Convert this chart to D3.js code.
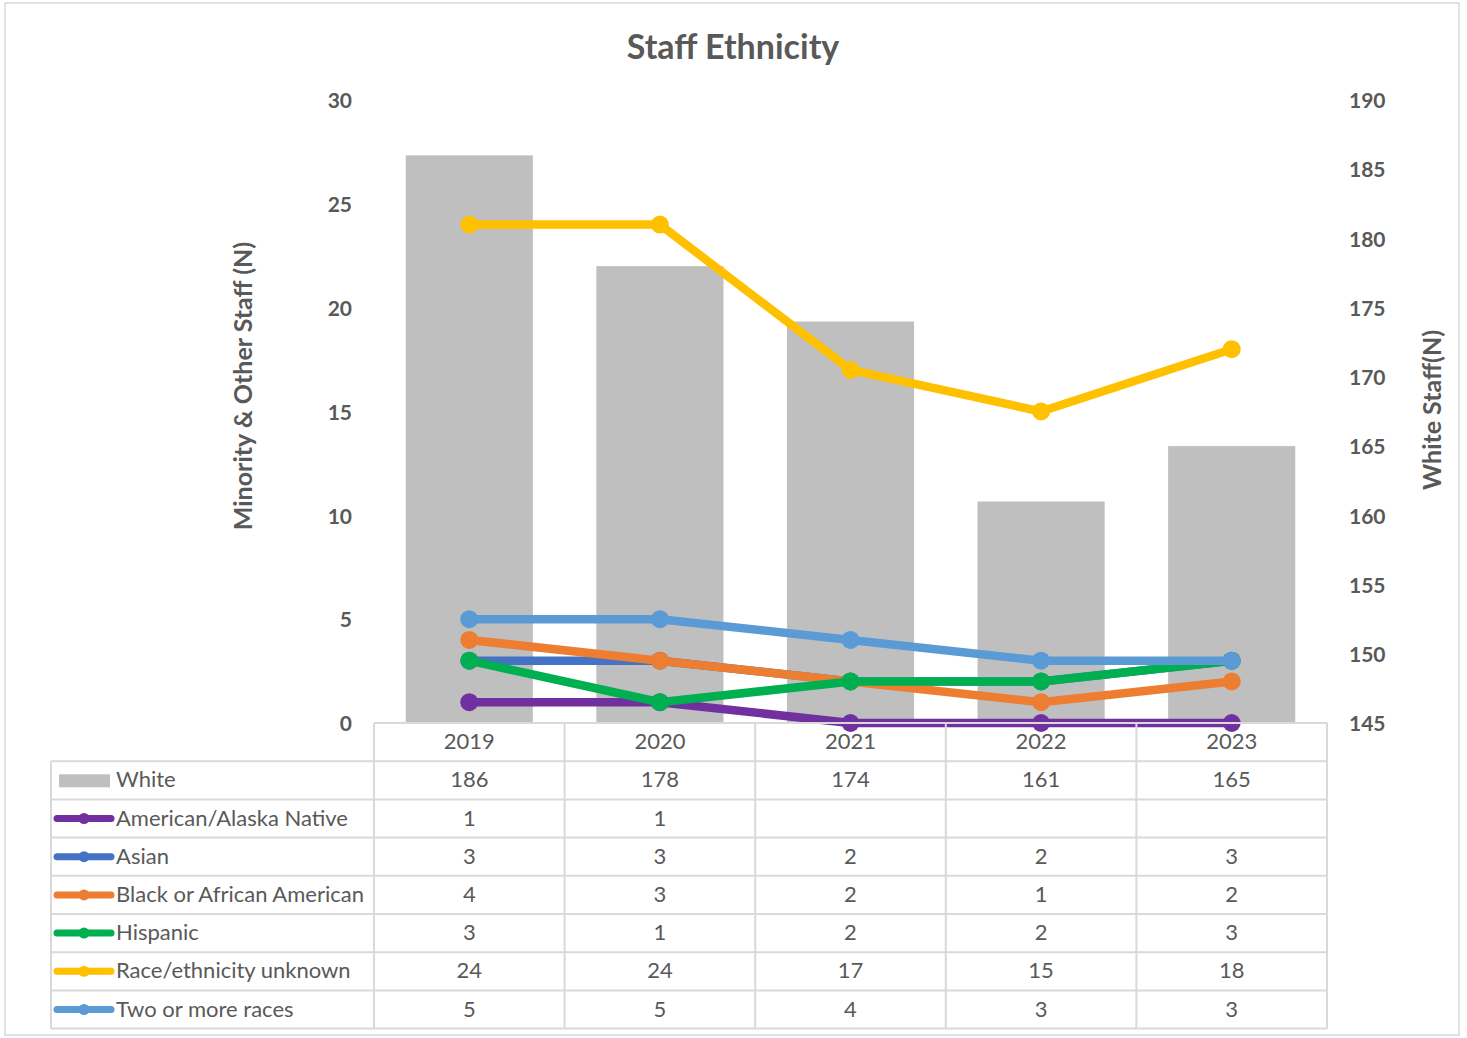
<!DOCTYPE html>
<html>
<head>
<meta charset="utf-8">
<script src="https://cdn.jsdelivr.net/npm/d3@7"></script>
<style>
  body { margin: 0; background: #fff; }
  svg { font-family: Lato, "Open Sans", sans-serif; }
</style>
</head>
<body>
<svg width="1467" height="1038"></svg>
<script>
// data
var years = ["2019", "2020", "2021", "2022", "2023"];
var white = [186, 178, 174, 161, 165];
var seriesNames = ["American/Alaska Native", "Asian", "Black or African American", "Hispanic", "Race/ethnicity unknown", "Two or more races"];
var americanNative = [1, 1, null, null, null];
var asian = [3, 3, 2, 2, 3];
var black = [4, 3, 2, 1, 2];
var hispanic = [3, 1, 2, 2, 3];
var unknown = [24, 24, 17, 15, 18];
var twoOrMore = [5, 5, 4, 3, 3];
var leftTicks = [0, 5, 10, 15, 20, 25, 30];
var rightTicks = [145, 150, 155, 160, 165, 170, 175, 180, 185, 190];

var seriesValues = [americanNative, asian, black, hispanic, unknown, twoOrMore];
var colors = ["#7030A0", "#4472C4", "#ED7D31", "#00B050", "#FFC000", "#5B9BD5"];
var textColor = "#595959";
var gridColor = "#d9d9d9";

var svg = d3.select("svg");

// outer chart border
svg.append("rect")
  .attr("x", 5).attr("y", 3)
  .attr("width", 1454).attr("height", 1032)
  .attr("fill", "none").attr("stroke", gridColor).attr("stroke-width", 1.5);

var plotLeft = 374, plotRight = 1327, plotTop = 100, plotBottom = 723;

var x = d3.scaleBand().domain(years).range([plotLeft, plotRight])
  .paddingInner(0.333).paddingOuter(0.1665);
var yLeft = d3.scaleLinear().domain([0, 30]).range([plotBottom, plotTop]);
var yRight = d3.scaleLinear().domain([145, 190]).range([plotBottom, plotTop]);
var cx = function(d) { return x(d) + x.bandwidth() / 2; };

// title
svg.append("text")
  .attr("x", 733).attr("y", 59)
  .attr("text-anchor", "middle")
  .style("font-size", "34px").style("font-weight", "bold")
  .attr("fill", textColor)
  .text("Staff Ethnicity");

// bars (right axis)
svg.selectAll(".bar")
  .data(years).enter()
  .append("rect")
  .attr("class", "bar")
  .attr("x", function(d) { return x(d); })
  .attr("y", function(d, i) { return yRight(white[i]); })
  .attr("width", x.bandwidth())
  .attr("height", function(d, i) { return plotBottom - yRight(white[i]); })
  .attr("fill", "#BFBFBF");

// axes
var leftAxis = svg.append("g")
  .attr("transform", "translate(" + (plotLeft - 22) + ",1)")
  .call(d3.axisLeft(yLeft).tickValues(leftTicks).tickSize(0).tickPadding(0));
var rightAxis = svg.append("g")
  .attr("transform", "translate(1349,1)")
  .call(d3.axisRight(yRight).tickValues(rightTicks).tickSize(0).tickPadding(0));
[leftAxis, rightAxis].forEach(function(a) {
  a.select(".domain").remove();
  a.selectAll("text")
    .attr("fill", textColor)
    .style("font-size", "21px").style("font-weight", "bold")
    .style("font-family", "Lato, sans-serif");
});

// axis titles
svg.append("text")
  .attr("transform", "translate(252,386) rotate(-90)")
  .attr("text-anchor", "middle")
  .style("font-size", "25px").style("font-weight", "bold")
  .attr("fill", textColor)
  .text("Minority & Other Staff (N)");
svg.append("text")
  .attr("transform", "translate(1441,410) rotate(-90)")
  .attr("text-anchor", "middle")
  .style("font-size", "25px").style("font-weight", "bold")
  .attr("fill", textColor)
  .text("White Staff(N)");

// lines (left axis), empty cells plotted as zero
var line = d3.line()
  .x(function(d) { return cx(d.year); })
  .y(function(d) { return yLeft(d.value == null ? 0 : d.value); });

seriesValues.forEach(function(vals, s) {
  var pts = years.map(function(y, i) { return { year: y, value: vals[i] }; });
  var g = svg.append("g");
  g.append("path")
    .datum(pts)
    .attr("d", line)
    .attr("fill", "none")
    .attr("stroke", colors[s])
    .attr("stroke-width", 8.5)
    .attr("stroke-linejoin", "round");
  g.selectAll("circle")
    .data(pts).enter()
    .append("circle")
    .attr("cx", function(d) { return cx(d.year); })
    .attr("cy", function(d) { return yLeft(d.value == null ? 0 : d.value); })
    .attr("r", 9)
    .attr("fill", colors[s]);
});

// data table
var rowH = 38.2;
var tableLeft = 51;
var headTop = plotBottom;
var bodyTop = headTop + rowH;
var nRows = seriesNames.length + 1;
var tableBottom = bodyTop + nRows * rowH;
var colEdge = function(i) { return plotLeft + i * x.step(); };

var grid = svg.append("g").attr("stroke", gridColor).attr("stroke-width", 2);
grid.append("line").attr("x1", plotLeft).attr("x2", plotRight).attr("y1", headTop).attr("y2", headTop);
for (var r = 0; r <= nRows; r++) {
  grid.append("line")
    .attr("x1", tableLeft).attr("x2", plotRight)
    .attr("y1", bodyTop + r * rowH).attr("y2", bodyTop + r * rowH);
}
grid.append("line").attr("x1", tableLeft).attr("x2", tableLeft).attr("y1", bodyTop).attr("y2", tableBottom);
for (var c = 0; c <= years.length; c++) {
  grid.append("line")
    .attr("x1", colEdge(c)).attr("x2", colEdge(c))
    .attr("y1", headTop).attr("y2", tableBottom);
}

var tableText = svg.append("g")
  .style("font-size", "22px").attr("fill", textColor);

// year header
tableText.selectAll(".yr")
  .data(years).enter()
  .append("text")
  .attr("x", cx)
  .attr("y", headTop + rowH / 2 + 7)
  .attr("text-anchor", "middle")
  .text(function(d) { return d; });

var rowLabels = ["White"].concat(seriesNames);
var rowValues = [white].concat(seriesValues);

rowLabels.forEach(function(name, r) {
  var yMid = bodyTop + r * rowH + rowH / 2;
  if (r === 0) {
    svg.append("rect")
      .attr("x", 59).attr("y", yMid - 6)
      .attr("width", 51).attr("height", 13)
      .attr("fill", "#BFBFBF");
  } else {
    svg.append("line")
      .attr("x1", 57).attr("x2", 111)
      .attr("y1", yMid).attr("y2", yMid)
      .attr("stroke", colors[r - 1]).attr("stroke-width", 7)
      .attr("stroke-linecap", "round");
    svg.append("circle")
      .attr("cx", 84).attr("cy", yMid).attr("r", 5.5)
      .attr("fill", colors[r - 1]);
  }
  tableText.append("text")
    .attr("x", 116).attr("y", yMid + 7)
    .text(name);
  tableText.selectAll(null)
    .data(rowValues[r]).enter()
    .append("text")
    .attr("x", function(d, i) { return cx(years[i]); })
    .attr("y", yMid + 7)
    .attr("text-anchor", "middle")
    .text(function(d) { return d == null ? "" : d; });
});
</script>
</body>
</html>
